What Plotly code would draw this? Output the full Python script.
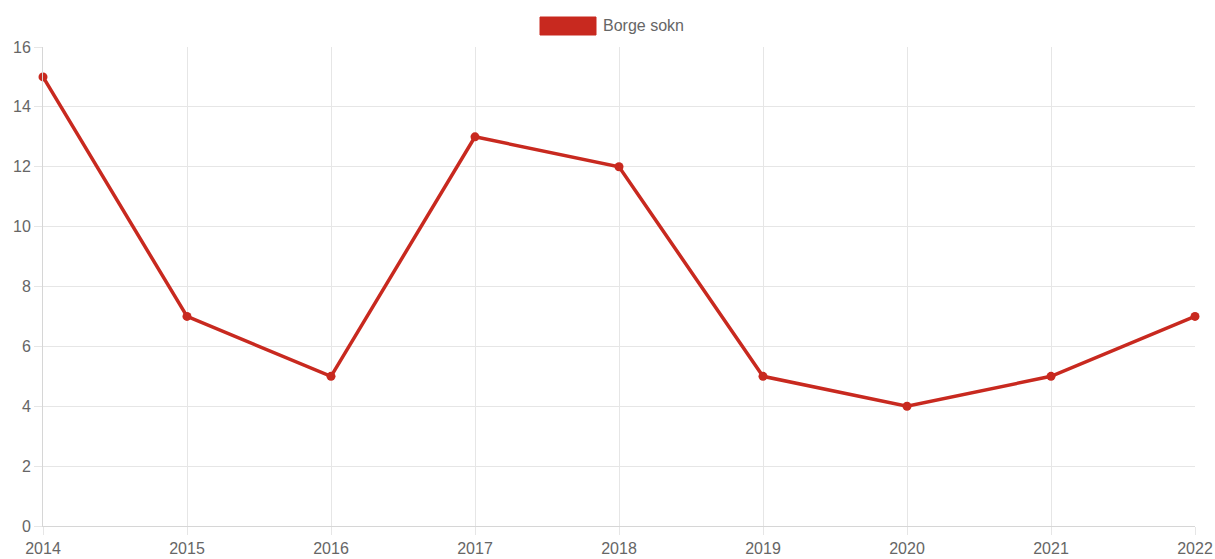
import plotly.graph_objects as go

years = ["2014", "2015", "2016", "2017", "2018", "2019", "2020", "2021", "2022"]
values = [15, 7, 5, 13, 12, 5, 4, 5, 7]
series_name = "Borge sokn"
color = "#c8291f"

fig = go.Figure()
fig.add_trace(go.Scatter(
    x=list(range(len(years))), y=values, mode="lines+markers", name=series_name,
    line=dict(color=color, width=3.5),
    marker=dict(color=color, size=9),
    showlegend=False,
    cliponaxis=False,
))

grid = "#e6e6e6"
fig.update_layout(
    width=1215, height=559,
    margin=dict(l=43, r=20, t=47, b=33, autoexpand=False),
    paper_bgcolor="white", plot_bgcolor="white",
    font=dict(family="Liberation Sans, Arial, sans-serif", size=16, color="#666"),
    xaxis=dict(
        tickmode="array", tickvals=list(range(len(years))), ticktext=years,
        range=[0, len(years) - 1], showgrid=True, gridcolor=grid, gridwidth=1,
        ticks="outside", ticklen=8, tickcolor=grid, zeroline=False,
        showline=True, linecolor="#d6d6d6", linewidth=1, automargin=False,
        tickfont=dict(size=16, color="#666"),
    ),
    yaxis=dict(
        range=[0, 16], dtick=2, showgrid=True, gridcolor=grid, gridwidth=1,
        ticks="outside", ticklen=8, tickcolor=grid, zeroline=False,
        showline=True, linecolor="#d6d6d6", linewidth=1, automargin=False,
        tickfont=dict(size=16, color="#666"),
    ),
    shapes=[dict(type="rect", xref="paper", yref="paper",
                 x0=(540 - 43) / 1152, x1=(596 - 43) / 1152,
                 y0=(526 - 35) / 479, y1=(526 - 17) / 479,
                 fillcolor=color, line=dict(color=color, width=1))],
    annotations=[dict(text=series_name, xref="paper", yref="paper",
                      x=(601 - 43) / 1152, y=(526 - 26) / 479,
                      xanchor="left", yanchor="middle", showarrow=False,
                      font=dict(size=16, color="#666"))],
)

fig.write_html("out.html", config={"displayModeBar": False},
               post_script="document.body.style.margin='0';document.body.style.overflow='hidden';")
